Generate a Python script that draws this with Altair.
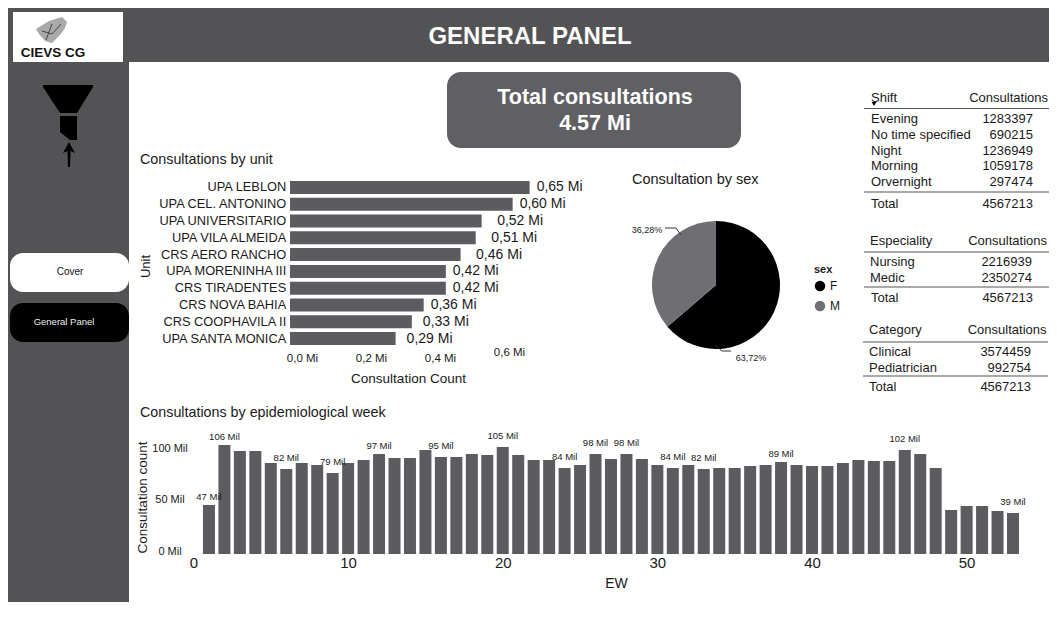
import altair as alt
import pandas as pd

FONT = "Liberation Sans"
W, H = 1041, 594
DARK = "#535355"
BAR = "#5c5b60"
BOX = "#605f63"
GREY = "#6f6e72"
TXT = "#1a1a1a"
SHIFT = 6  # the right-hand tables are moved left so they stay inside the canvas

units = ["UPA LEBLON", "UPA CEL. ANTONINO", "UPA UNIVERSITARIO", "UPA VILA ALMEIDA", "CRS AERO RANCHO",
         "UPA MORENINHA III", "CRS TIRADENTES", "CRS NOVA BAHIA", "CRS COOPHAVILA II", "UPA SANTA MONICA"]
unit_values = [0.649, 0.603, 0.519, 0.503, 0.462, 0.422, 0.422, 0.362, 0.330, 0.286]
unit_labels = ["0,65 Mi", "0,60 Mi", "0,52 Mi", "0,51 Mi", "0,46 Mi", "0,42 Mi", "0,42 Mi", "0,36 Mi", "0,33 Mi", "0,29 Mi"]
unit_ticks = [0.0, 0.2, 0.4, 0.6]

weeks = list(range(1, 54))
week_values = [47.7, 106, 100.2, 100.2, 88.5, 82.7, 88.5, 86.6, 78.8, 88.5, 91.4, 97.3, 93.4, 93.4, 101.2, 94.4,
               94.4, 97.3, 96.3, 104.1, 96.3, 91.4, 91.4, 83.7, 86.6, 97.3, 92.4, 97.3, 92.4, 86.6, 83.7, 86.6,
               82.7, 83.7, 83.7, 85.6, 86.6, 89.5, 86.6, 85.6, 85.6, 88.5, 91.4, 90.5, 90.5, 101.2, 97.3, 83.7,
               42.8, 46.7, 46.7, 41.8, 39.9]
near_weeks = [1, 2, 12, 38]
near_labels = ["47 Mil", "106 Mil", "97 Mil", "89 Mil"]
far_weeks = [6, 9, 16, 20, 24, 26, 28, 31, 33, 46, 53]
far_labels = ["82 Mil", "79 Mil", "95 Mil", "105 Mil", "84 Mil", "98 Mil", "98 Mil", "84 Mil", "82 Mil", "102 Mil", "39 Mil"]

sexes = ["F", "M"]
sex_values = [63.72, 36.28]

shift_rows = ["Evening", "No time specified", "Night", "Morning", "Orvernight"]
shift_vals = [1283397, 690215, 1236949, 1059178, 297474]
spec_rows = ["Nursing", "Medic"]
spec_vals = [2216939, 2350274]
cat_rows = ["Clinical", "Pediatrician"]
cat_vals = [3574459, 992754]
TOTAL = 4567213

ONE = alt.Data(values=[{}])


def X(v):
    return alt.value(v - 8)


def Y(v):
    return alt.value(v - 8)


def box(x0, x1, y0, y1, color, radius=0):
    return alt.Chart(ONE).mark_rect(color=color, cornerRadius=radius).encode(x=X(x0), x2=X(x1), y=Y(y0), y2=Y(y1))


def label(s, x, y, size=13, align="left", color=TXT, weight="normal"):
    nudge = 2 if size > 20 else 1
    return alt.Chart(ONE).mark_text(text=s, fontSize=size, align=align, baseline="middle", color=color,
                                    fontWeight=weight, font=FONT).encode(x=X(x), y=Y(y + nudge))


def line(x0, y0, x1, y1, color="#555555", w=1):
    return alt.Chart(ONE).mark_rule(color=color, strokeWidth=w).encode(x=X(x0), x2=X(x1), y=Y(y0), y2=Y(y1))


def glyph(path, color):
    return alt.Chart(ONE).mark_point(shape=path, size=4, filled=True, color=color, opacity=1,
                                     strokeWidth=0).encode(x=X(0), y=Y(0))


layers = [
    box(8, 1049, 8, 62, DARK),
    box(8, 129, 62, 602, DARK),
    box(13, 123, 12, 62, "white"),
    label("GENERAL PANEL", 530, 35, 24, "center", "white", "bold"),
    label("CIEVS CG", 53, 52, 13.5, "center", "#111111", "bold"),
    glyph("M36 29L49 21L62 17L67 22L65 28L60 35L52 43L45 41L39 34Z", "#a9a9a9"),
    line(42, 31, 52, 34, "#444444"), line(52, 24, 46, 40, "#444444"), line(52, 34, 61, 24, "#444444"),
    glyph("M43 85L93 85L93 87L77 113L60 113L43 87Z", "black"),
    glyph("M60 116L77 116L77 140L70 140L60 132Z", "black"),
    glyph("M69 142L75 153L70.5 151L70 167L68 167L67.5 151L63 153Z", "black"),
    box(10, 129, 253, 292, "white", 13),
    label("Cover", 70, 271, 10, "center", "#111111"),
    box(10, 129, 303, 342, "black", 13),
    label("General Panel", 64, 321, 9.5, "center", "#eeeeee"),
    box(447, 741, 72, 148, BOX, 14),
    label("Total consultations", 595, 96, 21.5, "center", "white", "bold"),
    label("4.57 Mi", 595, 122, 21.5, "center", "white", "bold"),
    label("Consultations by unit", 140, 159, 14.3),
    label("Consultation by sex", 632, 179, 14.5),
    label("Consultations by epidemiological week", 140, 412, 14.3),
]

# ---- consultations by unit
unit_df = pd.DataFrame({"unit": units, "value": unit_values, "label": unit_labels})
unit_x = alt.Scale(domain=[0, 0.65], range=[290 - 8, 530 - 8])
unit_y = alt.Scale(domain=units, range=[179.1 - 8, 346.9 - 8], paddingInner=0.225, paddingOuter=0.1125)
layers.append(
    alt.Chart(unit_df).mark_bar(color=BAR).encode(
        x=alt.X("value:Q", scale=unit_x, axis=None),
        y=alt.Y("unit:N", scale=unit_y, sort=units, axis=alt.Axis(
            orient="left", offset=-(285.7 - 8), domain=False, ticks=False, tickSize=0, labelPadding=0,
            labelFontSize=12.8, labelFont=FONT, labelColor=TXT, labelOverlap=False, grid=False, zindex=1,
            title="Unit", titleFontSize=13, titleFont=FONT, titleFontWeight="normal", titleColor=TXT,
            titleX=145 - 285.7, titleY=266 - 8, titleBaseline="middle", titleAlign="center")),
    )
)
for gap, names in [(7, ["UPA LEBLON", "UPA CEL. ANTONINO", "UPA MORENINHA III", "CRS TIRADENTES", "CRS NOVA BAHIA"]),
                   (11, ["CRS COOPHAVILA II", "UPA SANTA MONICA"]),
                   (15.5, ["UPA UNIVERSITARIO", "UPA VILA ALMEIDA", "CRS AERO RANCHO"])]:
    layers.append(
        alt.Chart(unit_df[unit_df.unit.isin(names)]).mark_text(
            align="left", baseline="middle", dx=gap, fontSize=14, font=FONT, color=TXT).encode(
            x=alt.X("value:Q", scale=unit_x, axis=None),
            y=alt.Y("unit:N", scale=unit_y, sort=units, axis=None),
            text="label:N",
        )
    )
layers.append(
    alt.Chart(pd.DataFrame({"tick": unit_ticks})).mark_point(opacity=0).encode(
        x=alt.X("tick:Q", scale=alt.Scale(domain=[0, 0.6], range=[302 - 8, 509 - 8]), axis=alt.Axis(
            orient="bottom", offset=(352 - 8) - H, values=unit_ticks, domain=False, ticks=False, tickSize=0,
            labelPadding={"condition": {"test": "datum.value == 0.6", "value": 0}, "value": 6},
            labelBaseline="middle", labelFontSize=11.5, labelFont=FONT, labelColor=TXT, labelFlush=False,
            labelOverlap=False, grid=False, zindex=1,
            labelExpr="replace(format(datum.value, '.1f'), '.', ',') + ' Mi'",
            title="Consultation Count", titleFontSize=13.5, titleFont=FONT, titleFontWeight="normal",
            titleColor=TXT, titleX=408 - 8, titleY=378 - 352, titleBaseline="middle", titleAlign="center")),
        y=alt.value(0),
    )
)

# ---- consultation by sex
sex_df = pd.DataFrame({"sex": sexes, "value": sex_values})
layers.append(
    alt.Chart(sex_df).mark_arc(radius=64).encode(
        theta=alt.Theta("value:Q", stack=True),
        color=alt.Color("sex:N", scale=alt.Scale(domain=sexes, range=["black", GREY]), legend=alt.Legend(
            orient="none", legendX=806, legendY=256, title="sex", symbolType="circle", symbolSize=110,
            labelFontSize=12, labelFont=FONT, labelColor=TXT, titleFontSize=11, titleFont=FONT,
            titleColor=TXT, rowPadding=8)),
        order=alt.Order("sex:N"),
        x=X(716),
        y=Y(285),
    )
)
layers += [
    label("36,28%", 647, 229, 9, "center"),
    label("63,72%", 751, 357, 9, "center"),
    line(665, 228, 676, 228, "#333333"), line(676, 228, 681, 235, "#333333"),
    line(715, 345, 722, 351, "#333333"), line(722, 351, 731, 351, "#333333"),
]

# ---- weeks
week_df = pd.DataFrame({"week": weeks, "value": week_values})
week_x = alt.Scale(domain=[0, 53], range=[193.5 - 8, 1013 - 8], padding=0)
week_y = alt.Scale(domain=[0, 106], range=[554 - 8, 445 - 8])
layers.append(
    alt.Chart(week_df).mark_bar(color=BAR, size=12).encode(
        x=alt.X("week:Q", scale=week_x, axis=alt.Axis(
            orient="bottom", offset=(562 - 8) - H, values=[0, 10, 20, 30, 40, 50], domain=False, ticks=False,
            tickSize=0, labelPadding=0, labelBaseline="middle", labelFontSize=15, labelFont=FONT, labelColor=TXT,
            labelFlush=False, labelOverlap=False, grid=False, zindex=1, format="d",
            title="EW", titleFontSize=14, titleFont=FONT, titleFontWeight="normal", titleColor=TXT,
            titleX=616 - 8, titleY=583 - 562, titleBaseline="middle", titleAlign="center")),
        y=alt.Y("value:Q", scale=week_y, axis=alt.Axis(
            orient="left", offset=-(169.5 - 8), values=[0, 50, 100], domain=False, ticks=False, tickSize=0,
            labelPadding=0, labelAlign="center", labelBaseline="middle", labelOffset=-3, labelFontSize=11,
            labelFont=FONT, labelColor=TXT, labelFlush=False, labelOverlap=False, grid=False, zindex=1,
            labelExpr="datum.value + ' Mil'",
            title="Consultation count", titleFontSize=13.5, titleFont=FONT, titleFontWeight="normal",
            titleColor=TXT, titleX=142 - 169.5, titleY=497 - 8, titleBaseline="middle", titleAlign="center")),
    )
)
for wk, labs, dy in [(near_weeks, near_labels, -8), (far_weeks, far_labels, -10.5)]:
    vals = [week_values[w - 1] for w in wk]
    layers.append(
        alt.Chart(pd.DataFrame({"week": wk, "value": vals, "label": labs})).mark_text(
            align="center", baseline="middle", dy=dy, fontSize=9.5, font=FONT, color=TXT).encode(
            x=alt.X("week:Q", scale=week_x, axis=None),
            y=alt.Y("value:Q", scale=week_y, axis=None),
            text="label:N",
        )
    )


# ---- tables
def table(rows, vals, first, last, left, right):
    df = pd.DataFrame({"row": rows, "val": vals})
    yscale = alt.Scale(type="point", domain=rows, range=[first - 7, last - 7], padding=0)
    y = alt.Y("row:N", scale=yscale, sort=rows, axis=None)
    return [
        alt.Chart(df).mark_text(align="left", baseline="middle", fontSize=13, font=FONT, color=TXT).encode(
            x=X(left - SHIFT), y=y, text="row:N"),
        alt.Chart(df).mark_text(align="right", baseline="middle", fontSize=13, font=FONT, color=TXT).encode(
            x=X(right - SHIFT), y=y, text=alt.Text("val:Q", format="d")),
    ]


layers += table(shift_rows, shift_vals, 118, 181, 877, 1039)
layers += [
    label("Shift", 877 - SHIFT, 97), label("Consultations", 1054 - SHIFT, 97, align="right"),
    alt.Chart(ONE).mark_point(shape="triangle-down", size=22, filled=True, color="black", opacity=1).encode(
        x=X(880 - SHIFT), y=Y(104)),
    line(870 - SHIFT, 108.5, 1049, 108.5), line(870 - SHIFT, 192, 1049, 192),
    label("Total", 877 - SHIFT, 203), label(str(TOTAL), 1039 - SHIFT, 203, align="right"),
]
layers += table(spec_rows, spec_vals, 261, 277, 876, 1038)
layers += [
    label("Especiality", 876 - SHIFT, 240), label("Consultations", 1053 - SHIFT, 240, align="right"),
    line(870 - SHIFT, 252, 1049, 252), line(870 - SHIFT, 287, 1049, 287),
    label("Total", 877 - SHIFT, 297), label(str(TOTAL), 1039 - SHIFT, 297, align="right"),
]
layers += table(cat_rows, cat_vals, 351, 367, 875, 1037)
layers += [
    label("Category", 875 - SHIFT, 329), label("Consultations", 1052.5 - SHIFT, 329, align="right"),
    line(869 - SHIFT, 342, 1048, 342), line(869 - SHIFT, 376, 1048, 376),
    label("Total", 875 - SHIFT, 386), label(str(TOTAL), 1037 - SHIFT, 386, align="right"),
]

chart = alt.layer(*layers).resolve_scale(x="independent", y="independent", color="independent").properties(
    width=W, height=H, padding=0, autosize=alt.AutoSizeParams(type="none"), background="white",
).configure_view(stroke=None)

chart.save("out.html", embed_options={"renderer": "svg", "actions": False})
